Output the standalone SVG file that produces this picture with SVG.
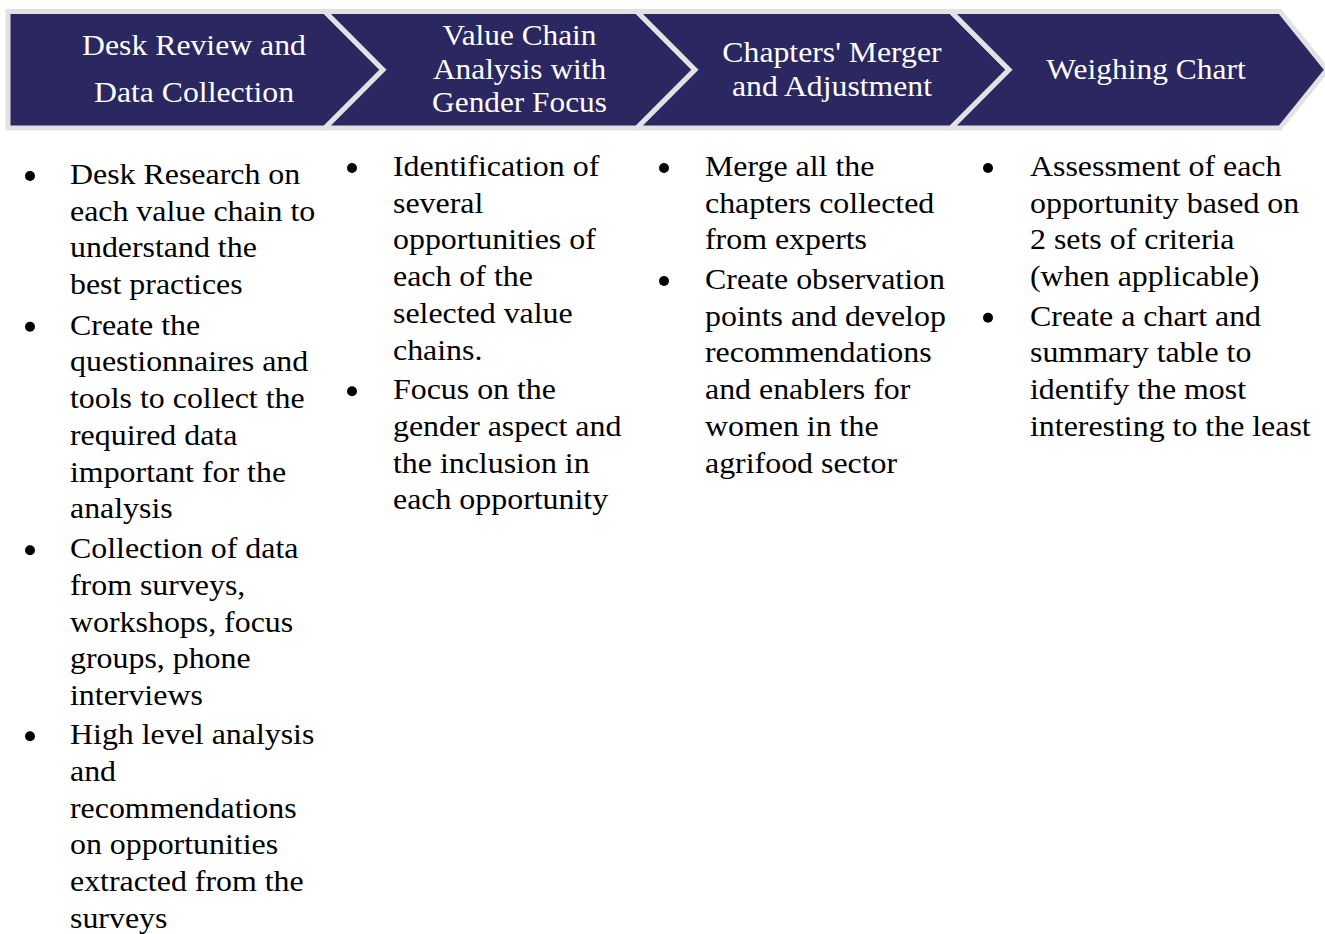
<svg xmlns="http://www.w3.org/2000/svg" width="1325" height="934" viewBox="0 0 1325 934">
  <style>
    .step { fill: #2a2761; stroke: #e2e2e4; stroke-width: 5; stroke-linejoin: miter; }
    .head { font-family: "Liberation Serif", "Times New Roman", serif; font-size: 29px; fill: #ffffff; text-anchor: middle; }
    .body { font-family: "Liberation Serif", "Times New Roman", serif; font-size: 29px; fill: #000000; }
    .dot { fill: #000000; }
  </style>
  <rect width="1325" height="934" fill="#ffffff"/>

  <!-- Process steps (chevrons) -->
  <g id="step-desk-review">
    <path class="step" d="M8,11.5 H325 L383,69.75 L325,128 H8 Z"/>
    <g transform="translate(194 0) scale(1.095 1)">
      <text class="head" x="0" y="55">Desk Review and</text>
      <text class="head" x="0" y="102">Data Collection</text>
    </g>
  </g>
  <g id="step-value-chain">
    <path class="step" d="M325,11.5 H637 L695,69.75 L637,128 H325 L383,69.75 Z"/>
    <g transform="translate(519.5 0) scale(1.08 1)">
      <text class="head" x="0" y="45.5">Value Chain</text>
      <text class="head" x="0" y="79">Analysis with</text>
      <text class="head" x="0" y="112.5">Gender Focus</text>
    </g>
  </g>
  <g id="step-merger">
    <path class="step" d="M637,11.5 H951 L1009,69.75 L951,128 H637 L695,69.75 Z"/>
    <g transform="translate(832 0) scale(1.095 1)">
      <text class="head" x="0" y="62.5">Chapters' Merger</text>
      <text class="head" x="0" y="96">and Adjustment</text>
    </g>
  </g>
  <g id="step-weighing">
    <path class="step" d="M951,11.5 H1280 L1327,69.75 L1280,128 H951 L1009,69.75 Z"/>
    <g transform="translate(1146 0) scale(1.086 1)">
      <text class="head" x="0" y="79">Weighing Chart</text>
    </g>
  </g>

  <!-- Bullet lists under each step -->
  <g id="list-desk-review">
    <circle class="dot" cx="30" cy="176" r="5"/>
    <circle class="dot" cx="30" cy="326.75" r="5"/>
    <circle class="dot" cx="30" cy="550.25" r="5"/>
    <circle class="dot" cx="30" cy="736.25" r="5"/>
    <g transform="translate(70 0) scale(1.1 1)">
      <text class="body" x="0" y="184">Desk Research on</text>
      <text class="body" x="0" y="220.75">each value chain to</text>
      <text class="body" x="0" y="257.5">understand the</text>
      <text class="body" x="0" y="294.25">best practices</text>
      <text class="body" x="0" y="334.75">Create the</text>
      <text class="body" x="0" y="371.5">questionnaires and</text>
      <text class="body" x="0" y="408.25">tools to collect the</text>
      <text class="body" x="0" y="445">required data</text>
      <text class="body" x="0" y="481.75">important for the</text>
      <text class="body" x="0" y="518.5">analysis</text>
      <text class="body" x="0" y="558.25">Collection of data</text>
      <text class="body" x="0" y="595">from surveys,</text>
      <text class="body" x="0" y="631.75">workshops, focus</text>
      <text class="body" x="0" y="668.5">groups, phone</text>
      <text class="body" x="0" y="705.25">interviews</text>
      <text class="body" x="0" y="744.25">High level analysis</text>
      <text class="body" x="0" y="781">and</text>
      <text class="body" x="0" y="817.75">recommendations</text>
      <text class="body" x="0" y="854.5">on opportunities</text>
      <text class="body" x="0" y="891.25">extracted from the</text>
      <text class="body" x="0" y="928">surveys</text>
    </g>
  </g>

  <g id="list-value-chain">
    <circle class="dot" cx="352" cy="168" r="5"/>
    <circle class="dot" cx="352" cy="391.25" r="5"/>
    <g transform="translate(393 0) scale(1.1 1)">
      <text class="body" x="0" y="176">Identification of</text>
      <text class="body" x="0" y="212.75">several</text>
      <text class="body" x="0" y="249.5">opportunities of</text>
      <text class="body" x="0" y="286.25">each of the</text>
      <text class="body" x="0" y="323">selected value</text>
      <text class="body" x="0" y="359.75">chains.</text>
      <text class="body" x="0" y="399.25">Focus on the</text>
      <text class="body" x="0" y="436">gender aspect and</text>
      <text class="body" x="0" y="472.75">the inclusion in</text>
      <text class="body" x="0" y="509.5">each opportunity</text>
    </g>
  </g>

  <g id="list-merger">
    <circle class="dot" cx="664" cy="168" r="5"/>
    <circle class="dot" cx="664" cy="281" r="5"/>
    <g transform="translate(705 0) scale(1.1 1)">
      <text class="body" x="0" y="176">Merge all the</text>
      <text class="body" x="0" y="212.75">chapters collected</text>
      <text class="body" x="0" y="249.5">from experts</text>
      <text class="body" x="0" y="289">Create observation</text>
      <text class="body" x="0" y="325.75">points and develop</text>
      <text class="body" x="0" y="362.5">recommendations</text>
      <text class="body" x="0" y="399.25">and enablers for</text>
      <text class="body" x="0" y="436">women in the</text>
      <text class="body" x="0" y="472.75">agrifood sector</text>
    </g>
  </g>

  <g id="list-weighing">
    <circle class="dot" cx="988" cy="168" r="5"/>
    <circle class="dot" cx="988" cy="317.75" r="5"/>
    <g transform="translate(1030 0) scale(1.1 1)">
      <text class="body" x="0" y="176">Assessment of each</text>
      <text class="body" x="0" y="212.75">opportunity based on</text>
      <text class="body" x="0" y="249.5">2 sets of criteria</text>
      <text class="body" x="0" y="286.25">(when applicable)</text>
      <text class="body" x="0" y="325.75">Create a chart and</text>
      <text class="body" x="0" y="362.5">summary table to</text>
      <text class="body" x="0" y="399.25">identify the most</text>
      <text class="body" x="0" y="436">interesting to the least</text>
    </g>
  </g>
</svg>
